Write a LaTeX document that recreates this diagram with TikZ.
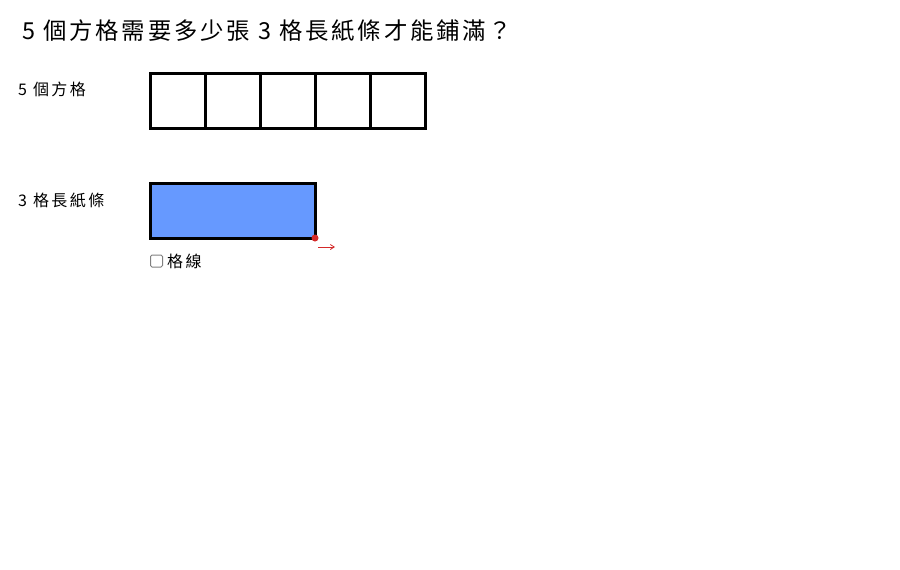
\documentclass[tikz,border=0pt]{standalone}
\usepackage{fontspec}
\setmainfont{Liberation Sans}
\newfontfamily\cjk{Noto Sans CJK TC}
\newfontfamily\cjkwide[LetterSpace=15]{Noto Sans CJK TC}
\newfontfamily\cjktitle[LetterSpace=12]{Noto Sans CJK TC}
\usetikzlibrary{arrows.meta}
\definecolor{stripblue}{HTML}{6699FF}
\definecolor{ptred}{HTML}{D42A2A}
\tikzset{
  cell/.style={draw=black, line width=3pt, minimum width=55pt, minimum height=55pt, inner sep=0pt, outer sep=0pt, anchor=north west},
  lbl/.style={anchor=west, inner sep=0pt, font=\fontsize{16}{19}\selectfont\cjkwide},
}
\begin{document}
\begin{tikzpicture}[x=1pt,y=-1pt]
\useasboundingbox[fill=white] (0,0) rectangle (900,570);
\node[anchor=west, inner sep=0pt, font=\fontsize{23.4}{28}\selectfont\cjktitle] (title) at (22,31) {5 個方格需要多少張 3 格長紙條才能鋪滿？};
\node[lbl] (l5) at (18,89) {5 個方格};
\node[lbl] (l3) at (18,200) {3 格長紙條};
\foreach \i in {0,...,4} {
  \node[cell] (c\i) at (150+55*\i,73) {};
}
\node[draw=black, fill=stripblue, line width=3pt, minimum width=165pt, minimum height=55pt, inner sep=0pt, outer sep=0pt, anchor=north west] (strip) at (150,183) {};
\fill[ptred] (strip.south east) circle (3.5pt);
\coordinate (a1) at (318,247);
\coordinate (a2) at (335,247);
\draw[ptred, line width=0.8pt, -{Straight Barb[length=4pt,width=5pt]}] (a1) -- (a2);
\node[draw=gray, rounded corners=1.5pt, line width=1pt, minimum size=12pt, inner sep=0pt, anchor=west] (cb) at (150,261) {};
\node[lbl] (grid) at (167,261) {格線};
\end{tikzpicture}
\end{document}
